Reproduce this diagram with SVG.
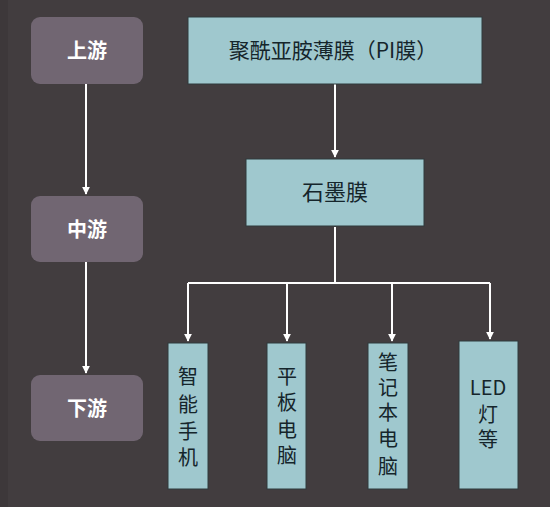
<svg xmlns="http://www.w3.org/2000/svg" width="550" height="507" viewBox="0 0 550 507">
<defs>
<marker id="arr" viewBox="0 0 10 10" refX="9" refY="5" markerWidth="4" markerHeight="4" orient="auto"><path d="M0,0 L10,5 L0,10 z" fill="#ffffff"/></marker>
<style>
.stage{fill:#716672}
.stage-t{font-family:"Noto Sans CJK SC","Liberation Sans",sans-serif;font-size:20px;font-weight:bold;fill:#ffffff;text-anchor:middle}
.box{fill:#9fc8ce;stroke:#2f3a3c;stroke-width:1}
.box-t{font-family:"Noto Sans CJK SC","Liberation Sans",sans-serif;font-size:21px;fill:#15252b;text-anchor:middle}
.vt{font-family:"Noto Sans CJK SC","Liberation Sans",sans-serif;font-size:20px;fill:#15252b;text-anchor:middle}
.line{stroke:#ffffff;stroke-width:2;fill:none}
</style>
</defs>
<rect x="0" y="0" width="550" height="507" fill="#423d3f"/>
<rect x="0" y="0" width="8" height="507" fill="#3d383a"/>
<g id="connectors">
<path class="line" d="M86,84 V194" marker-end="url(#arr)"/>
<path class="line" d="M86,262 V373" marker-end="url(#arr)"/>
<path class="line" d="M335,84 V157" marker-end="url(#arr)"/>
<path class="line" d="M335,227 V282"/>
<path class="line" d="M188,283 H490"/>
<path class="line" d="M188,283 V341" marker-end="url(#arr)"/>
<path class="line" d="M287,283 V341" marker-end="url(#arr)"/>
<path class="line" d="M392,283 V341" marker-end="url(#arr)"/>
<path class="line" d="M490,283 V339" marker-end="url(#arr)"/>
</g>
<g id="upstream"><rect class="stage" x="31" y="17" width="112" height="67" rx="9"/><text class="stage-t" x="87" y="58">上游</text></g>
<g id="midstream"><rect class="stage" x="31" y="196" width="112" height="66" rx="9"/><text class="stage-t" x="87" y="237">中游</text></g>
<g id="downstream"><rect class="stage" x="31" y="375" width="112" height="66" rx="9"/><text class="stage-t" x="87" y="416">下游</text></g>
<g id="pi-film"><rect class="box" x="188" y="17" width="294" height="67"/><text class="box-t" x="333" y="58">聚酰亚胺薄膜（PI膜）</text></g>
<g id="graphite"><rect class="box" x="246" y="159" width="178" height="67"/><text class="box-t" x="335" y="200" style="font-size:22px">石墨膜</text></g>
<g id="phone"><rect class="box" x="168" y="343" width="40" height="146"/>
<text class="vt" x="188"><tspan x="188" y="384">智</tspan><tspan x="188" y="412">能</tspan><tspan x="188" y="439">手</tspan><tspan x="188" y="465">机</tspan></text></g>
<g id="tablet"><rect class="box" x="267" y="343" width="39" height="146"/>
<text class="vt" x="287"><tspan x="287" y="384">平</tspan><tspan x="287" y="410">板</tspan><tspan x="287" y="437">电</tspan><tspan x="287" y="463">脑</tspan></text></g>
<g id="laptop"><rect class="box" x="368" y="343" width="40" height="146"/>
<text class="vt" x="388"><tspan x="388" y="370">笔</tspan><tspan x="388" y="395">记</tspan><tspan x="388" y="420">本</tspan><tspan x="388" y="446">电</tspan><tspan x="388" y="474">脑</tspan></text></g>
<g id="led"><rect class="box" x="459" y="341" width="59" height="148"/>
<text class="vt" x="488"><tspan x="488" y="395">LED</tspan><tspan x="488" y="422">灯</tspan><tspan x="488" y="447">等</tspan></text></g>
</svg>
